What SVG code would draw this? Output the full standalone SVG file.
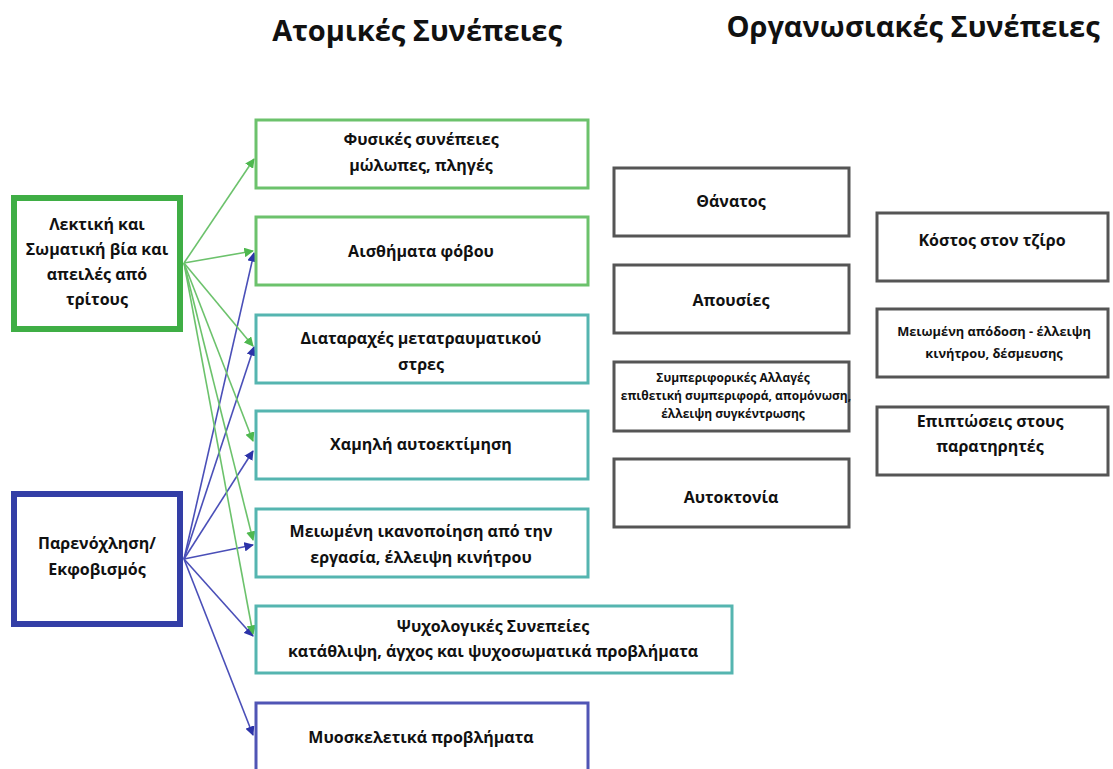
<svg xmlns="http://www.w3.org/2000/svg" width="1113" height="769" viewBox="0 0 1113 769">
<style>
text{font-family:"Open Sans","Liberation Sans",sans-serif;font-weight:700;fill:#111;text-anchor:middle}
.t{font-size:16px}
.s{font-size:12px}
.m{font-size:12.8px}
.h{font-size:29px}
.bx{fill:#fff;stroke-width:3}
.g{stroke:#6cc26c}
.c{stroke:#55b5b0}
.b{stroke:#5055b5}
.k{stroke:#555;stroke-width:3;fill:#fff}
.lg{stroke:#3fae45;stroke-width:6;fill:#fff}
.lb{stroke:#333ea6;stroke-width:6;fill:#fff}
.ag{stroke:#6cc26c;stroke-width:1.6;fill:none;marker-end:url(#mg)}
.ab{stroke:#4a4fb8;stroke-width:1.6;fill:none;marker-end:url(#mb)}
</style>
<defs>
<marker id="mg" viewBox="0 0 10 10" refX="9" refY="5" markerWidth="6" markerHeight="6" orient="auto" markerUnits="strokeWidth"><path d="M0,0L10,5L0,10z" fill="#4fb84f"/></marker>
<marker id="mb" viewBox="0 0 10 10" refX="9" refY="5" markerWidth="6" markerHeight="6" orient="auto" markerUnits="strokeWidth"><path d="M0,0L10,5L0,10z" fill="#2c33a8"/></marker>
</defs>
<rect width="1113" height="769" fill="#fff"/>
<text class="h" x="417" y="41">Ατομικές Συνέπειες</text>
<text class="h" x="913" y="37">Οργανωσιακές Συνέπειες</text>

<g id="connectors">
<line class="ab" x1="184" y1="559" x2="254" y2="253"/>
<line class="ab" x1="184" y1="559" x2="254" y2="347"/>
<line class="ab" x1="184" y1="559" x2="253" y2="451"/>
<line class="ab" x1="184" y1="559" x2="253" y2="545"/>
<line class="ab" x1="184" y1="559" x2="253" y2="636"/>
<line class="ab" x1="184" y1="559" x2="253" y2="735"/>
<line class="ag" x1="184" y1="263" x2="254" y2="159"/>
<line class="ag" x1="184" y1="263" x2="253" y2="251"/>
<line class="ag" x1="184" y1="263" x2="253" y2="346"/>
<line class="ag" x1="184" y1="263" x2="253" y2="441"/>
<line class="ag" x1="184" y1="263" x2="253" y2="540"/>
<line class="ag" x1="184" y1="263" x2="253" y2="634"/>
</g>

<g id="n-verbal">
<rect class="lg" x="14" y="198" width="166" height="131"/>
<text class="t" x="97" y="230">Λεκτική και</text>
<text class="t" x="97" y="255">Σωματική βία και</text>
<text class="t" x="97" y="280">απειλές από</text>
<text class="t" x="97" y="305">τρίτους</text>
</g>
<g id="n-harass">
<rect class="lb" x="14" y="494" width="166" height="130"/>
<text class="t" x="97" y="549">Παρενόχληση/</text>
<text class="t" x="97" y="575">Εκφοβισμός</text>
</g>

<g id="n-physical">
<rect class="bx g" x="256" y="120" width="332" height="68"/>
<text class="t" x="421" y="145">Φυσικές συνέπειες</text>
<text class="t" x="421" y="171">μώλωπες, πληγές</text>
</g>
<g id="n-fear">
<rect class="bx g" x="256" y="217" width="332" height="68"/>
<text class="t" x="421" y="257">Αισθήματα φόβου</text>
</g>
<g id="n-ptsd">
<rect class="bx c" x="256" y="315" width="332" height="68"/>
<text class="t" x="421" y="344">Διαταραχές μετατραυματικού</text>
<text class="t" x="421" y="370">στρες</text>
</g>
<g id="n-esteem">
<rect class="bx c" x="256" y="411" width="332" height="68"/>
<text class="t" x="421" y="450">Χαμηλή αυτοεκτίμηση</text>
</g>
<g id="n-satisf">
<rect class="bx c" x="256" y="509" width="332" height="68"/>
<text class="t" x="421" y="537">Μειωμένη ικανοποίηση από την</text>
<text class="t" x="421" y="563">εργασία, έλλειψη κινήτρου</text>
</g>
<g id="n-psych">
<rect class="bx c" x="256" y="606" width="476" height="67"/>
<text class="t" x="493" y="632">Ψυχολογικές Συνεπείες</text>
<text class="t" x="493" y="657">κατάθλιψη, άγχος και ψυχοσωματικά προβλήματα</text>
</g>
<g id="n-musculo">
<rect class="bx b" x="256" y="703" width="332" height="80"/>
<text class="t" x="421" y="743">Μυοσκελετικά προβλήματα</text>
</g>

<g id="n-death">
<rect class="k" x="614" y="168" width="235" height="68"/>
<text class="t" x="731" y="207">Θάνατος</text>
</g>
<g id="n-absence">
<rect class="k" x="614" y="265" width="235" height="68"/>
<text class="t" x="731" y="306">Απουσίες</text>
</g>
<g id="n-behav">
<rect class="k" x="614" y="362" width="235" height="69"/>
<text class="s" x="733" y="382">Συμπεριφορικές Αλλαγές</text>
<text class="s" x="736" y="400">επιθετική συμπεριφορά, απομόνωση,</text>
<text class="s" x="733" y="418">έλλειψη συγκέντρωσης</text>
</g>
<g id="n-suicide">
<rect class="k" x="614" y="459" width="235" height="68"/>
<text class="t" x="731" y="503">Αυτοκτονία</text>
</g>

<g id="n-turnover">
<rect class="k" x="877" y="213" width="231" height="68"/>
<text class="t" x="992" y="246">Κόστος στον τζίρο</text>
</g>
<g id="n-perf">
<rect class="k" x="877" y="309" width="231" height="68"/>
<text class="m" x="994" y="336">Μειωμένη απόδοση - έλλειψη</text>
<text class="m" x="994" y="358">κινήτρου, δέσμευσης</text>
</g>
<g id="n-observers">
<rect class="k" x="877" y="407" width="231" height="68"/>
<text class="t" x="990" y="427">Επιπτώσεις στους</text>
<text class="t" x="990" y="452">παρατηρητές</text>
</g>
</svg>
